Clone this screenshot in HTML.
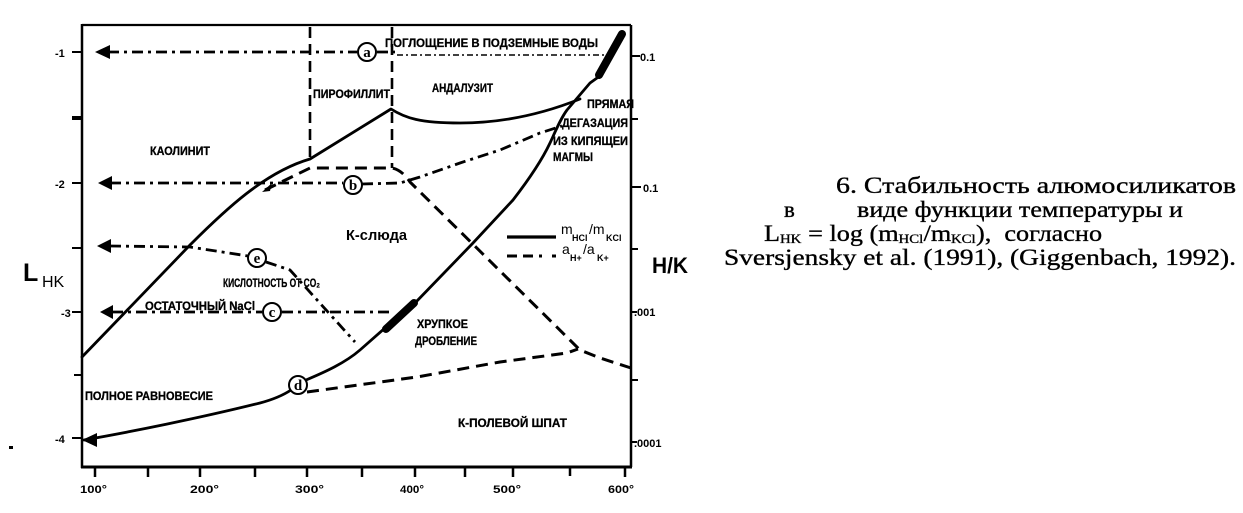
<!DOCTYPE html>
<html><head><meta charset="utf-8"><style>
html,body{margin:0;padding:0;background:#fff;}
svg{display:block;}
.l{font-family:"Liberation Sans","DejaVu Sans",sans-serif;font-weight:bold;fill:#000;}
.s{font-family:"Liberation Serif","DejaVu Serif",serif;fill:#000;}
</style></head><body>
<svg width="1243" height="513" viewBox="0 0 1243 513" xmlns="http://www.w3.org/2000/svg">
<rect width="1243" height="513" fill="#fff"/>

<!-- axes frame -->
<g stroke="#000" fill="none">
<path d="M82,25 H631" stroke-width="2.2"/>
<path d="M82,24 V468" stroke-width="2.5"/>
<path d="M81,467 H632" stroke-width="3"/>
<path d="M631,25 V467" stroke-width="2.5"/>
<path d="M72,52 H82 M72,183 H82 M72,248 H82 M72,312 H82 M74,375 H82 M72,438 H82" stroke-width="2"/>
<path d="M72,118 H82" stroke-width="4"/>
<path d="M631,56 H640 M631,119 H638 M631,187 H641 M631,249 H638 M631,312 H637 M631,380 H638 M631,442 H637" stroke-width="2"/>
<path d="M95,467 V477 M148,467 V477 M200,467 V477 M255,467 V477 M307,467 V477 M362,467 V477 M415,467 V477 M465,467 V477 M513,467 V477 M570,467 V476 M625,467 V477" stroke-width="2.5"/>
</g>
<rect x="9" y="446" width="4" height="3" fill="#000"/>

<!-- axis labels -->
<g class="l" font-size="11">
<text x="55" y="57">-1</text>
<text x="55" y="188">-2</text>
<text x="61" y="317">-3</text>
<text x="55" y="443">-4</text>
<text x="640" y="61">0.1</text>
<text x="643" y="192">0.1</text>
<text x="634" y="316">.001</text>
<text x="634" y="447">.0001</text>
<text x="80" y="493" textLength="27" lengthAdjust="spacingAndGlyphs">100°</text>
<text x="190" y="493" textLength="29" lengthAdjust="spacingAndGlyphs">200°</text>
<text x="295" y="493" textLength="29" lengthAdjust="spacingAndGlyphs">300°</text>
<text x="400" y="493" textLength="24" lengthAdjust="spacingAndGlyphs">400°</text>
<text x="493" y="493" textLength="28" lengthAdjust="spacingAndGlyphs">500°</text>
<text x="608" y="493" textLength="26" lengthAdjust="spacingAndGlyphs">600°</text>
</g>
<text x="23" y="281" font-family="Liberation Sans, sans-serif" font-size="25" font-weight="bold">L</text>
<text x="42" y="287" font-family="Liberation Sans, sans-serif" font-size="16">HK</text>
<text x="652" y="273" font-family="Liberation Sans, sans-serif" font-size="22" font-weight="bold" textLength="36" lengthAdjust="spacingAndGlyphs">H/K</text>

<!-- vertical dashed boundaries -->
<g stroke="#000" fill="none" stroke-width="2.6" stroke-dasharray="11 6">
<path d="M310,27 V160"/>
<path d="M392,27 V168"/>
</g>

<!-- solid curves -->
<g stroke="#000" fill="none" stroke-width="2.8" stroke-linejoin="round" stroke-linecap="round">
<path d="M82,357 L190,245 C225,210 265,172 310,159 L391,109 C405,118 420,123 460,123 C500,123 540,115 580,99"/>
<path d="M84,440 C130,432 200,418 260,403 C275,399 285,394 291,390"/>
<path d="M306,380 C325,372 345,363 360,350 L385,328 L415,303 L473,243 L513,200 C530,178 542,160 550,143 C556,130 561,118 567,110 L590,83 L597,78 L623,32"/>
</g>
<g stroke="#000" stroke-width="8" stroke-linecap="round" fill="none">
<path d="M386,329 L414,303"/>
<path d="M599,75 L622,34"/>
</g>

<!-- dashed a_H/a_K lines -->
<g stroke="#000" fill="none" stroke-width="3" stroke-dasharray="12 7">
<path d="M265,190 L310,168 L392,168 Q402,170 410,182 L580,350 L600,358 L631,368"/>
<path d="M307,392 L417,377 L500,362 L567,353 L578,349"/>
</g>
<path d="M262,192 L272,183 L270,191 Z" fill="#000"/>

<!-- dash-dot lines -->
<g stroke="#000" fill="none" stroke-width="2.8" stroke-dasharray="11 5 3 5">
<path d="M108,52 H357"/>
<path d="M377,52 H395"/>
<path d="M110,183 H343"/>
<path d="M362,184 L400,183 L420,177 L460,163 L500,150 L540,133 L562,126"/>
<path d="M110,246 L190,247 L248,256"/>
<path d="M266,262 L290,270 L355,342"/>
<path d="M112,312 H262"/>
<path d="M282,312 H393"/>
</g>
<path d="M397,55 H605" stroke="#000" stroke-width="1.5" stroke-dasharray="6 3 2 3" fill="none"/>

<!-- arrowheads -->
<g fill="#000">
<path d="M95,52 L110,45 L110,59 Z"/>
<path d="M98,183 L112,176 L112,190 Z"/>
<path d="M97,246 L111,239 L111,253 Z"/>
<path d="M100,312 L113,305 L113,319 Z"/>
<path d="M82,440 L97,433 L97,447 Z"/>
</g>

<!-- circled letters -->
<g stroke="#000" stroke-width="2" fill="#fff">
<circle cx="367" cy="52" r="9"/>
<circle cx="353" cy="185" r="9"/>
<circle cx="257" cy="258" r="9"/>
<circle cx="272" cy="312" r="9"/>
<circle cx="298" cy="385" r="9"/>
</g>
<g class="s" font-size="15" font-weight="bold" text-anchor="middle">
<text x="367" y="57">a</text>
<text x="353" y="190">b</text>
<text x="257" y="263">e</text>
<text x="272" y="317">c</text>
<text x="298" y="390">d</text>
</g>

<!-- region labels -->
<g class="l" font-size="12" stroke="#000" stroke-width="0.3">
<text x="385" y="47" textLength="213" lengthAdjust="spacingAndGlyphs">ПОГЛОЩЕНИЕ В ПОДЗЕМНЫЕ ВОДЫ</text>
<text x="313" y="98" textLength="77" lengthAdjust="spacingAndGlyphs">ПИРОФИЛЛИТ</text>
<text x="432" y="92" textLength="61" lengthAdjust="spacingAndGlyphs">АНДАЛУЗИТ</text>
<text x="150" y="155" textLength="60" lengthAdjust="spacingAndGlyphs">КАОЛИНИТ</text>
<text x="587" y="108" textLength="47" lengthAdjust="spacingAndGlyphs">ПРЯМАЯ</text>
<text x="562" y="127" textLength="66" lengthAdjust="spacingAndGlyphs">ДЕГАЗАЦИЯ</text>
<text x="553" y="145" textLength="75" lengthAdjust="spacingAndGlyphs">ИЗ КИПЯЩЕИ</text>
<text x="553" y="161" textLength="40" lengthAdjust="spacingAndGlyphs">МАГМЫ</text>
<text x="223" y="287" textLength="97" lengthAdjust="spacingAndGlyphs">КИСЛОТНОСТЬ ОТ CO₂</text>
<text x="145" y="310" textLength="110" lengthAdjust="spacingAndGlyphs">ОСТАТОЧНЫЙ NaCl</text>
<text x="85" y="400" textLength="128" lengthAdjust="spacingAndGlyphs">ПОЛНОЕ РАВНОВЕСИЕ</text>
<text x="417" y="328" textLength="51" lengthAdjust="spacingAndGlyphs">ХРУПКОЕ</text>
<text x="415" y="345" textLength="62" lengthAdjust="spacingAndGlyphs">ДРОБЛЕНИЕ</text>
<text x="458" y="427" textLength="109" lengthAdjust="spacingAndGlyphs">К-ПОЛЕВОЙ ШПАТ</text>
</g>
<text x="346" y="240" class="l" font-size="15" textLength="61" lengthAdjust="spacingAndGlyphs">К-слюда</text>

<!-- legend -->
<path d="M507,237 H556" stroke="#000" stroke-width="3.2"/>
<path d="M507,256 H556" stroke="#000" stroke-width="3" stroke-dasharray="10 6 10 6 3 10"/>
<g font-family="Liberation Sans, sans-serif" fill="#000">
<text x="561" y="234" font-size="14">m</text>
<text x="572" y="241" font-size="9" font-weight="bold">HCl</text>
<text x="589" y="234" font-size="14">/m</text>
<text x="606" y="241" font-size="9" font-weight="bold">KCl</text>
<text x="562" y="254" font-size="14">a</text>
<text x="570" y="261" font-size="9" font-weight="bold">H+</text>
<text x="583" y="254" font-size="14">/a</text>
<text x="597" y="261" font-size="9" font-weight="bold">K+</text>
</g>

<!-- caption -->
<g class="s" font-size="23" stroke="#000" stroke-width="0.35">
<text x="836" y="193" textLength="400" lengthAdjust="spacingAndGlyphs">6. Стабильность алюмосиликатов</text>
<text x="784" y="217">в</text>
<text x="857" y="217" textLength="326" lengthAdjust="spacingAndGlyphs">виде функции температуры и</text>
<g transform="translate(764,0) scale(1.14,1)">
<text x="0" y="241">L</text>
<text x="14" y="243" font-size="13">HK</text>
<text x="33" y="241" xml:space="preserve"> = log (m</text>
<text x="118" y="243" font-size="13">HCl</text>
<text x="140" y="241">/m</text>
<text x="164" y="243" font-size="13">KCl</text>
<text x="186" y="241" xml:space="preserve">),  согласно</text>
</g>
<text x="724" y="265" textLength="512" lengthAdjust="spacingAndGlyphs">Sversjensky et al. (1991), (Giggenbach, 1992).</text>
</g>
</svg>
</body></html>
